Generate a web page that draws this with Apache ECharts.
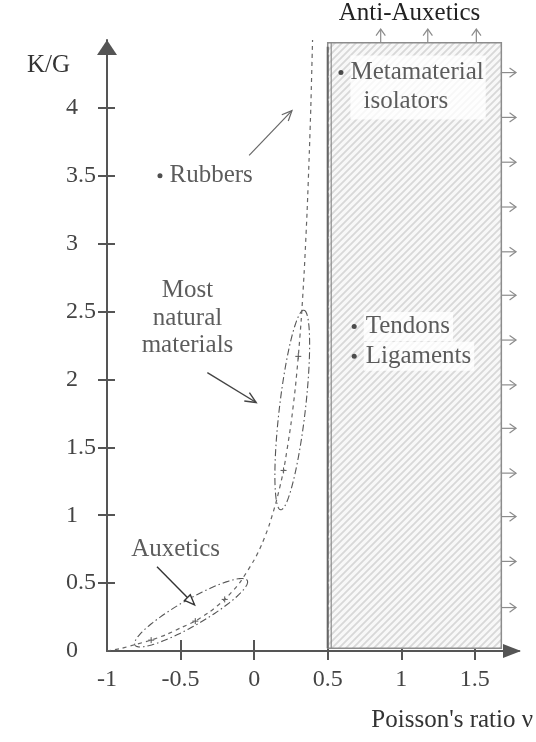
<!DOCTYPE html>
<html>
<head>
<meta charset="utf-8">
<script src="https://cdn.jsdelivr.net/npm/echarts@6/dist/echarts.min.js"></script>
<style>
  html, body { margin: 0; padding: 0; background: #fff; }
  #chart { width: 536px; height: 742px; }
</style>
</head>
<body>
<div id="chart"></div>
<script>
// K/G against Poisson's ratio: isotropic curve, material groups and the anti-auxetic zone

// Axis ticks and labels
const xTicks = [-0.5, 0, 0.5, 1, 1.5];
const xTickLabels = [-1, -0.5, 0, 0.5, 1, 1.5];
const yTicks = [0.5, 1, 1.5, 2, 2.5, 3, 3.5, 4];
const yTickLabels = [0, 0.5, 1, 1.5, 2, 2.5, 3, 3.5, 4];

// Dashed K/G curve
const curveNu = [-1, -0.9, -0.8, -0.7, -0.6, -0.5, -0.4, -0.3, -0.2, -0.1, 0, 0.05, 0.1, 0.15, 0.2, 0.25, 0.28, 0.3, 0.32, 0.34, 0.36, 0.375, 0.385, 0.397];
const curveKG = [0, 0.02, 0.05, 0.08, 0.12, 0.17, 0.22, 0.29, 0.38, 0.5, 0.67, 0.78, 0.92, 1.1, 1.33, 1.67, 1.94, 2.17, 2.44, 2.79, 3.24, 3.67, 4.0, 4.5];

// Small "+" marks along the curve
const crossNu = [-0.7, -0.4, -0.2, 0.2, 0.3];
const crossKG = [0.08, 0.22, 0.38, 1.33, 2.17];

// Group outlines: end points of each ellipse's long axis [nu1, kg1, nu2, kg2]
const auxeticsEllipse = [-0.81, 0.044, -0.047, 0.52];
const naturalEllipse = [0.18, 1.04, 0.338, 2.51];

// Pointer arrows [fromNu, fromKG, toNu, toKG]
const rubbersPointer = [-0.034, 3.65, 0.257, 3.98];
const naturalPointer = [-0.318, 2.05, 0.014, 1.83];
const auxeticsPointer = [-0.66, 0.62, -0.405, 0.34];

// Anti-auxetic zone
const zoneNu = [0.5, 1.68];
const zoneKG = [0.02, 4.48];
const outwardUpNu = [0.86, 1.18, 1.51];
const outwardRightKG = [4.26, 3.93, 3.6, 3.27, 2.94, 2.62, 2.29, 1.96, 1.64, 1.31, 0.99, 0.66, 0.32];
const outwardStep = 0.1;

// Bulleted material notes
const noteNames = ['Rubbers', 'Metamaterial\nisolators', 'Tendons', 'Ligaments'];
const noteNu = [-0.64, 0.59, 0.68, 0.68];
const noteKG = [3.5, 4.26, 2.39, 2.17];

// Free text notes
const textNames = ['Most\nnatural\nmaterials', 'Auxetics'];
const textNu = [-0.453, -0.534];
const textKG = [2.45, 0.745];

const FONT = "'Liberation Serif', 'Times New Roman', serif";
const AXIS = '#555';

function hatchCanvas() {
  const s = 7;
  const c = document.createElement('canvas');
  c.width = s; c.height = s;
  const g = c.getContext('2d');
  g.fillStyle = '#f8f8f8';
  g.fillRect(0, 0, s, s);
  g.strokeStyle = '#d8d8d8';
  g.lineWidth = 1.8;
  g.beginPath();
  g.moveTo(-1, s + 1); g.lineTo(s + 1, -1);
  g.moveTo(-1, 1); g.lineTo(1, -1);
  g.moveTo(s - 1, s + 1); g.lineTo(s + 1, s - 1);
  g.stroke();
  return c;
}
const hatch = hatchCanvas();

function ellipseItem(params, api) {
  const p1 = api.coord([api.value(0), api.value(1)]);
  const p2 = api.coord([api.value(2), api.value(3)]);
  const cx = (p1[0] + p2[0]) / 2, cy = (p1[1] + p2[1]) / 2;
  const a = Math.hypot(p2[0] - p1[0], p2[1] - p1[1]) / 2;
  const b = 13;
  const ux = (p2[0] - p1[0]) / (2 * a), uy = (p2[1] - p1[1]) / (2 * a);
  const pts = [];
  for (let i = 0; i < 120; i++) {
    const t = i / 120 * 2 * Math.PI;
    const c = Math.cos(t) * a, s = Math.sin(t) * b;
    pts.push([cx + c * ux - s * uy, cy + c * uy + s * ux]);
  }
  return {
    type: 'polygon', shape: { points: pts },
    style: { fill: 'none', stroke: '#555', lineWidth: 1.1, lineDash: [7, 3, 1.5, 3] }
  };
}

function arrowItem(color, width, head, spread, closed) {
  return function (params, api) {
    const p1 = api.coord([api.value(0), api.value(1)]);
    const p2 = api.coord([api.value(2), api.value(3)]);
    const ang = Math.atan2(p2[1] - p1[1], p2[0] - p1[0]);
    const h1 = [p2[0] - head * Math.cos(ang - spread), p2[1] - head * Math.sin(ang - spread)];
    const h2 = [p2[0] - head * Math.cos(ang + spread), p2[1] - head * Math.sin(ang + spread)];
    const children = [{
      type: 'line', shape: { x1: p1[0], y1: p1[1], x2: p2[0], y2: p2[1] },
      style: { stroke: color, lineWidth: width }
    }];
    children.push(closed
      ? { type: 'polygon', shape: { points: [h1, p2, h2] }, style: { fill: '#fff', stroke: color, lineWidth: width } }
      : { type: 'polyline', shape: { points: [h1, p2, h2] }, style: { fill: 'none', stroke: color, lineWidth: width } });
    return { type: 'group', children: children };
  };
}

function crossItem(params, api) {
  const c = api.coord([api.value(0), api.value(1)]);
  const r = 3;
  return {
    type: 'group', children: [
      { type: 'line', shape: { x1: c[0] - r, y1: c[1], x2: c[0] + r, y2: c[1] }, style: { stroke: '#555', lineWidth: 1 } },
      { type: 'line', shape: { x1: c[0], y1: c[1] - r, x2: c[0], y2: c[1] + r }, style: { stroke: '#555', lineWidth: 1 } }
    ]
  };
}

function zoneItem(params, api) {
  const tl = api.coord([api.value(0), api.value(3)]);
  const br = api.coord([api.value(2), api.value(1)]);
  const w = br[0] - tl[0], h = br[1] - tl[1];
  return {
    type: 'group', children: [
      { type: 'rect', shape: { x: tl[0], y: tl[1], width: w, height: h },
        style: { fill: { image: hatch, repeat: 'repeat' }, stroke: '#8c8c8c', lineWidth: 1.5 } },
      { type: 'line', shape: { x1: tl[0] + 3.5, y1: tl[1], x2: tl[0] + 3.5, y2: br[1] },
        style: { stroke: '#8c8c8c', lineWidth: 1.2 } },
      { type: 'line', shape: { x1: tl[0], y1: tl[1] + 4, x2: tl[0], y2: br[1] },
        style: { stroke: '#666', lineWidth: 2 } },
      { type: 'line', shape: { x1: tl[0] + 1.5, y1: tl[1] + 10, x2: tl[0] + 1.5, y2: br[1] },
        style: { stroke: '#fff', lineWidth: 1, lineDash: [2, 21] } },
      { type: 'text', x: (tl[0] + br[0]) / 2 - 5, y: tl[1] - 29,
        style: { text: 'Anti-Auxetics', fontFamily: FONT, fontSize: 25, fill: '#222', align: 'center', verticalAlign: 'middle' } }
    ]
  };
}

const noteData = noteNames.map(function (name, i) {
  const lines = name.split('\n');
  const item = { value: [noteNu[i], noteKG[i]], name: name };
  if (lines.length > 1) {
    item.label = {
      formatter: '{a|' + lines[0] + '}\n{b|' + lines[1] + '}',
      backgroundColor: '#fff', padding: [2, 2, 4, 0], offset: [0, 15],
      rich: { a: { fontFamily: FONT, fontSize: 25, color: '#333', lineHeight: 29 },
              b: { fontFamily: FONT, fontSize: 25, color: '#333', lineHeight: 29, padding: [0, 0, 0, 13] } }
    };
  } else if (i > 1) {
    item.label = { backgroundColor: '#fff', padding: [2, 3, 2, 2] };
  }
  return item;
});

const textData = textNames.map(function (name, i) {
  return { value: [textNu[i], textKG[i]], name: name };
});

const chart = echarts.init(document.getElementById('chart'), null, { renderer: 'canvas' });

chart.setOption({
  backgroundColor: '#fff',
  animation: false,
  grid: { left: 107, right: 14.6, top: 40, bottom: 91 },
  xAxis: [{
    type: 'value', min: -1, max: 1.8,
    name: "Poisson's ratio ν", nameLocation: 'end', nameGap: 14,
    nameTextStyle: { fontFamily: FONT, fontSize: 25, color: '#333', align: 'right', verticalAlign: 'top', padding: [57, 0, 0, 0] },
    axisLine: { onZero: false, symbol: ['none', 'triangle'], symbolSize: [14, 18], symbolOffset: [0, -7], lineStyle: { color: AXIS, width: 2 } },
    axisTick: { show: true, length: 9, customValues: xTicks, lineStyle: { color: AXIS, width: 2 } },
    axisLabel: { customValues: xTickLabels, margin: 17, fontFamily: FONT, fontSize: 24, color: '#444' },
    splitLine: { show: false }
  }, {
    type: 'value', min: -1, max: 1.8, position: 'bottom', gridIndex: 0, offset: 0,
    axisLine: { show: false, onZero: false },
    axisTick: { show: true, inside: true, length: 11, customValues: xTicks, lineStyle: { color: AXIS, width: 2 } },
    axisLabel: { show: false },
    splitLine: { show: false }
  }],
  yAxis: [{
    type: 'value', min: 0, max: 4.5,
    name: 'K/G', nameLocation: 'end', nameGap: -13,
    nameTextStyle: { fontFamily: FONT, fontSize: 25, color: '#333', align: 'right', verticalAlign: 'top', padding: [0, 37, 0, 0] },
    axisLine: { onZero: false, symbol: ['none', 'triangle'], symbolSize: [20, 15], symbolOffset: [0, -7.5], lineStyle: { color: AXIS, width: 2 } },
    axisTick: { show: true, length: 9, customValues: yTicks, lineStyle: { color: AXIS, width: 2 } },
    axisLabel: { customValues: yTickLabels, margin: 41, align: 'left', padding: [0, 0, 8, 0], fontFamily: FONT, fontSize: 24, color: '#444' },
    splitLine: { show: false }
  }, {
    type: 'value', min: 0, max: 4.5, position: 'left', gridIndex: 0, offset: 0,
    axisLine: { show: false, onZero: false },
    axisTick: { show: true, inside: true, length: 8, customValues: yTicks, lineStyle: { color: AXIS, width: 2 } },
    axisLabel: { show: false },
    splitLine: { show: false }
  }],
  series: [
    {
      name: 'anti-auxetic zone', type: 'custom', renderItem: zoneItem, clip: false, z: 1,
      data: [[zoneNu[0], zoneKG[0], zoneNu[1], zoneKG[1]]]
    },
    {
      name: 'outward up', type: 'custom', clip: false, z: 3,
      renderItem: arrowItem('#8c8c8c', 1.2, 8, 0.62, false),
      data: outwardUpNu.map(function (v) { return [v, zoneKG[1], v, zoneKG[1] + outwardStep]; })
    },
    {
      name: 'outward right', type: 'custom', clip: false, z: 3,
      renderItem: arrowItem('#8c8c8c', 1.2, 8, 0.62, false),
      data: outwardRightKG.map(function (v) { return [zoneNu[1], v, zoneNu[1] + outwardStep, v]; })
    },
    {
      name: 'K/G', type: 'line', showSymbol: false, smooth: 0.2, z: 4,
      lineStyle: { color: '#666', width: 1.2, type: [4, 4] },
      data: curveNu.map(function (v, i) { return [v, curveKG[i]]; })
    },
    {
      name: 'marks', type: 'custom', renderItem: crossItem, z: 4,
      data: crossNu.map(function (v, i) { return [v, crossKG[i]]; })
    },
    {
      name: 'groups', type: 'custom', renderItem: ellipseItem, clip: false, z: 4,
      data: [auxeticsEllipse, naturalEllipse]
    },
    {
      name: 'pointer thin', type: 'custom', clip: false, z: 5,
      renderItem: arrowItem('#666', 1.2, 11, 0.42, false),
      data: [rubbersPointer]
    },
    {
      name: 'pointer natural', type: 'custom', clip: false, z: 5,
      renderItem: arrowItem('#444', 1.4, 12, 0.42, false),
      data: [naturalPointer]
    },
    {
      name: 'pointer auxetics', type: 'custom', clip: false, z: 5,
      renderItem: arrowItem('#333', 1.4, 11, 0.38, true),
      data: [auxeticsPointer]
    },
    {
      name: 'notes', type: 'scatter', symbol: 'circle', symbolSize: 5, z: 6,
      itemStyle: { color: '#222' },
      label: { show: true, position: 'right', distance: 7, formatter: '{b}', fontFamily: FONT, fontSize: 25, color: '#333' },
      data: noteData
    },
    {
      name: 'texts', type: 'scatter', symbolSize: 0, z: 6,
      label: { show: true, position: 'inside', formatter: '{b}', fontFamily: FONT, fontSize: 25, color: '#333', lineHeight: 27.5, align: 'center' },
      data: textData
    }
  ]
});
</script>
</body>
</html>
